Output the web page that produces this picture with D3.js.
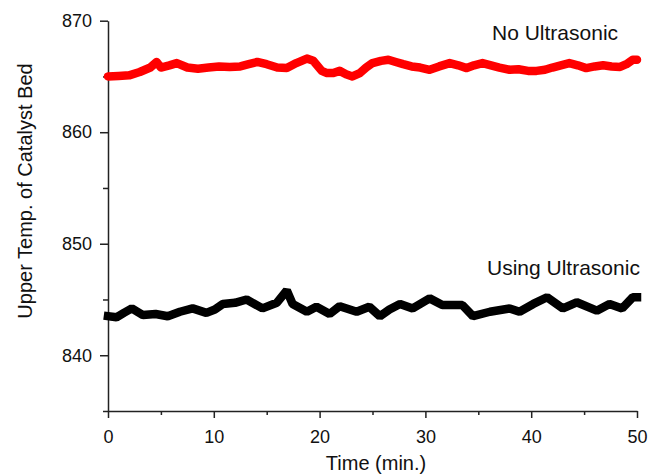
<!DOCTYPE html>
<html>
<head>
<meta charset="utf-8">
<script src="https://d3js.org/d3.v7.min.js"></script>
<style>
  body { margin: 0; background: #fff; }
  text { font-family: "Liberation Sans", Arial, sans-serif; fill: #111; }
</style>
</head>
<body>
<div id="chart"></div>
<script>
// time (min.) and temperature readings
var noUltraTime = [0, 1, 2, 3, 4, 4.6, 5, 5.8, 6.5, 7.5, 8.5, 9.5, 10.5, 11.5, 12.5, 13.3, 14.1, 15, 16, 16.9,
  17.8, 18.8, 19.4, 20.2, 20.7, 21.3, 21.9, 22.5, 23.1, 23.8, 24.4, 25, 25.8, 26.5, 27.2, 27.9, 28.7, 29.5, 30.4,
  31.3, 32.3, 33.1, 33.9, 34.6, 35.4, 36.2, 37, 37.96, 38.8, 39.7, 40.5, 41.3, 42, 42.8, 43.6, 44.4, 45.2, 46,
  46.8, 47.6, 48.4, 49, 49.6, 50];
var noUltraTemp = [865.0, 865.05, 865.1, 865.4, 865.8, 866.3, 865.8, 866.0, 866.2, 865.8, 865.7, 865.8, 865.9, 865.85,
  865.9, 866.1, 866.3, 866.1, 865.8, 865.75, 866.2, 866.6, 866.4, 865.5, 865.3, 865.3, 865.5, 865.2, 865.0, 865.3,
  865.8, 866.2, 866.4, 866.5, 866.3, 866.1, 865.9, 865.8, 865.6, 865.9, 866.2, 866.0, 865.75, 866.0, 866.2, 866.0,
  865.8, 865.6, 865.65, 865.5, 865.5, 865.6, 865.8, 866.0, 866.2, 866.0, 865.75, 865.9, 866.0, 865.9, 865.85,
  866.1, 866.5, 866.5];

var ultraTime = [0, 0.8, 1.5, 2.25, 3.3, 4.5, 5.65, 6.8, 8, 9.3, 10.1, 10.85, 12, 13.1, 14.6, 15.95, 16.9, 17.45,
  18.8, 19.7, 20.95, 21.9, 23.5, 24.7, 25.7, 26.6, 27.6, 28.8, 30.4, 31.6, 33.5, 34.5, 36.1, 37.96, 38.9, 40.2,
  41.5, 43, 44.3, 46.2, 47.4, 48.6, 49.6, 50];
var ultraTemp = [843.5, 843.4, 843.8, 844.2, 843.6, 843.7, 843.5, 843.9, 844.2, 843.8, 844.1, 844.6, 844.7, 845.0,
  844.2, 844.7, 845.8, 844.6, 843.9, 844.35, 843.7, 844.4, 843.9, 844.35, 843.5, 844.1, 844.6, 844.2, 845.1,
  844.5, 844.5, 843.5, 843.9, 844.2, 843.9, 844.6, 845.2, 844.2, 844.75, 844.0, 844.6, 844.2, 845.2, 845.2];

var xTicks = [0, 10, 20, 30, 40, 50];
var xMinor = [5, 15, 25, 35, 45];
var yTicks = [840, 850, 860, 870];
var yMinor = [835, 845, 855, 865];

var W = 661, H = 475;
var margin = {top: 20.7, right: 24, bottom: 64, left: 108};
var width = W - margin.left - margin.right,
    height = H - margin.top - margin.bottom;

var svg = d3.select("#chart").append("svg")
    .attr("width", W)
    .attr("height", H);

var g = svg.append("g")
    .attr("transform", "translate(" + margin.left + "," + margin.top + ")");

var x = d3.scaleLinear().domain([0, 50]).range([0, width]);
var y = d3.scaleLinear().domain([835, 870]).range([height, 0]);

// minor ticks first, then the labelled axes
g.append("g")
    .attr("transform", "translate(0," + height + ")")
    .call(d3.axisBottom(x).tickValues(xMinor).tickSize(4).tickFormat(""))
    .call(function(a) { a.select(".domain").remove(); });
g.append("g")
    .call(d3.axisLeft(y).tickValues(yMinor).tickSize(5).tickFormat(""))
    .call(function(a) { a.select(".domain").remove(); });

var xAxis = g.append("g")
    .attr("transform", "translate(0," + height + ")")
    .call(d3.axisBottom(x).tickValues(xTicks).tickSize(7).tickSizeOuter(0).tickPadding(12));
var yAxis = g.append("g")
    .call(d3.axisLeft(y).tickValues(yTicks).tickSize(8).tickSizeOuter(0).tickPadding(8));

g.selectAll(".tick line, .domain").attr("stroke", "#222").attr("stroke-width", 1.5);
g.selectAll(".tick text").style("font-size", "18px").attr("fill", "#111")
  .style("font-family", "'Liberation Sans', Arial, sans-serif");

// series
var line = d3.line()
    .x(function(d) { return x(d[0]); })
    .y(function(d) { return y(d[1]); });

g.append("path")
    .datum(d3.zip(noUltraTime, noUltraTemp))
    .attr("fill", "none")
    .attr("stroke", "#ff0000")
    .attr("stroke-width", 8.5)
    .attr("stroke-linejoin", "round")
    .attr("stroke-linecap", "round")
    .attr("d", line);

g.append("path")
    .datum(d3.zip(ultraTime, ultraTemp))
    .attr("fill", "none")
    .attr("stroke", "#000")
    .attr("stroke-width", 8.5)
    .attr("stroke-linejoin", "bevel")
    .attr("stroke-linecap", "square")
    .attr("d", line);

// labels
svg.append("text")
    .attr("x", 492).attr("y", 40)
    .style("font-size", "21px")
    .text("No Ultrasonic");

svg.append("text")
    .attr("x", 487).attr("y", 275)
    .style("font-size", "21px")
    .text("Using Ultrasonic");

svg.append("text")
    .attr("x", 376).attr("y", 470)
    .attr("text-anchor", "middle")
    .style("font-size", "20px")
    .text("Time (min.)");

svg.append("text")
    .attr("transform", "translate(32,191) rotate(-90)")
    .attr("text-anchor", "middle")
    .style("font-size", "20px")
    .text("Upper Temp. of Catalyst Bed");
</script>
</body>
</html>
